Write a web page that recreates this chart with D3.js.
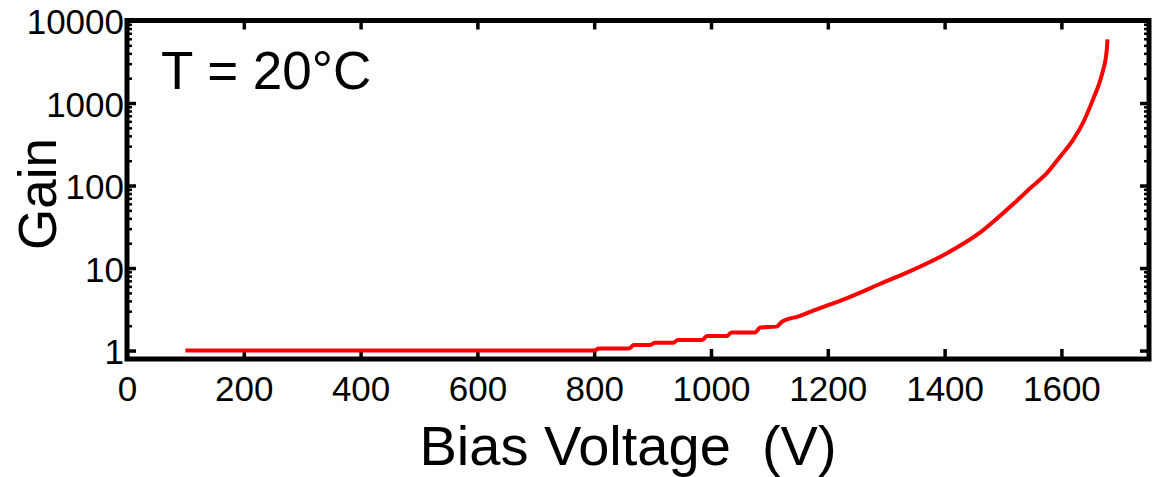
<!DOCTYPE html>
<html>
<head>
<meta charset="utf-8">
<script src="https://cdn.jsdelivr.net/npm/d3@7"></script>
<style>
  html, body { margin: 0; padding: 0; background: #fff; }
  svg { display: block; }
  text { font-family: "Liberation Sans", Arial, sans-serif; fill: #000; white-space: pre; }
</style>
</head>
<body>
<svg id="chart" width="1153" height="477"></svg>
<script>
// ---- data ----
const voltage = [100, 800, 808, 860, 868, 896, 904, 935, 943, 985, 993, 1027, 1035, 1076, 1084, 1112, 1122, 1150, 1175, 1232, 1289, 1346, 1404, 1461, 1490, 1518, 1546, 1575, 1598, 1620, 1638, 1655, 1666, 1672, 1676, 1678, 1679];
const gain    = [1.0, 1.0, 1.06, 1.06, 1.17, 1.17, 1.24, 1.24, 1.34, 1.34, 1.5, 1.5, 1.66, 1.66, 1.9, 1.95, 2.25, 2.6, 3.05, 4.3, 6.4, 9.5, 15.1, 27.0, 40, 60, 92, 141, 225, 357, 596, 1146, 1830, 2600, 3500, 4700, 5900];
const xTickValues = [0, 200, 400, 600, 800, 1000, 1200, 1400, 1600];
const yTickValues = [1, 10, 100, 1000, 10000];
const yTickLabels = ["1", "10", "100", "1000", "10000"];
const xTitle = "Bias Voltage  (V)";
const yTitle = "Gain";
const note = "T = 20°C";

// ---- layout ----
const pLeft = 127, pRight = 1149, pTop = 20.5, pBottom = 359;
const svg = d3.select("#chart");

const x = d3.scaleLinear().domain([0, 1750]).range([pLeft, pRight]);
const y = d3.scaleLog().domain([0.79, 10000]).range([pBottom, pTop]);

const minorY = [];
for (let d = 1; d <= 1000; d *= 10) for (let m = 2; m <= 9; m++) minorY.push(d * m);

function styleAxis(g) {
  g.select(".domain").remove();
  g.selectAll(".tick line").attr("stroke", "#000").attr("stroke-width", 3.5);
}

// bottom axis with labels
svg.append("g").attr("transform", `translate(0,${pBottom})`)
  .call(d3.axisBottom(x).tickValues(xTickValues).tickSize(-10).tickSizeOuter(0).tickPadding(17).tickFormat(d3.format("d")))
  .call(styleAxis)
  .call(g => g.selectAll("text").attr("font-size", 35).attr("font-family", "Liberation Sans, Arial, sans-serif"));

// top axis (ticks only)
svg.append("g").attr("transform", `translate(0,${pTop})`)
  .call(d3.axisTop(x).tickValues(xTickValues).tickSize(-9).tickSizeOuter(0).tickFormat(""))
  .call(styleAxis);

// left axis with labels
svg.append("g").attr("transform", `translate(${pLeft},0)`)
  .call(d3.axisLeft(y).tickValues(yTickValues).tickSize(-9).tickSizeOuter(0).tickPadding(3)
    .tickFormat((d, i) => yTickLabels[i]))
  .call(styleAxis)
  .call(g => g.selectAll("text").attr("font-size", 35).attr("dy", "0.38em").attr("font-family", "Liberation Sans, Arial, sans-serif"));

// left minor
svg.append("g").attr("transform", `translate(${pLeft},0)`)
  .call(d3.axisLeft(y).tickValues(minorY).tickSize(-5).tickSizeOuter(0).tickFormat(""))
  .call(styleAxis)
  .call(g => g.selectAll(".tick line").attr("stroke-width", 2.5));

// right axis
svg.append("g").attr("transform", `translate(${pRight},0)`)
  .call(d3.axisRight(y).tickValues(yTickValues).tickSize(-9).tickSizeOuter(0).tickFormat(""))
  .call(styleAxis);
svg.append("g").attr("transform", `translate(${pRight},0)`)
  .call(d3.axisRight(y).tickValues(minorY).tickSize(-5).tickSizeOuter(0).tickFormat(""))
  .call(styleAxis)
  .call(g => g.selectAll(".tick line").attr("stroke-width", 2.5));

// frame
svg.append("rect")
  .attr("x", pLeft).attr("y", pTop)
  .attr("width", pRight - pLeft).attr("height", pBottom - pTop)
  .attr("fill", "none").attr("stroke", "#000").attr("stroke-width", 5);

// curve
const pts = voltage.map((v, i) => [v, gain[i]]);
svg.append("path")
  .datum(pts)
  .attr("fill", "none")
  .attr("stroke", "#ff0000")
  .attr("stroke-width", 4)
  .attr("stroke-linejoin", "round")
  .attr("d", d3.line().curve(d3.curveMonotoneX).x(d => x(d[0])).y(d => y(d[1])));

// titles
svg.append("text")
  .attr("x", 628).attr("y", 465)
  .attr("text-anchor", "middle")
  .attr("font-size", 56)
  .attr("xml:space", "preserve")
  .text(xTitle);

svg.append("text")
  .attr("transform", "translate(56,194) rotate(-90)")
  .attr("text-anchor", "middle")
  .attr("font-size", 53)
  .text(yTitle);

svg.append("text")
  .attr("x", 161).attr("y", 89)
  .attr("font-size", 53)
  .text(note);
</script>
</body>
</html>
